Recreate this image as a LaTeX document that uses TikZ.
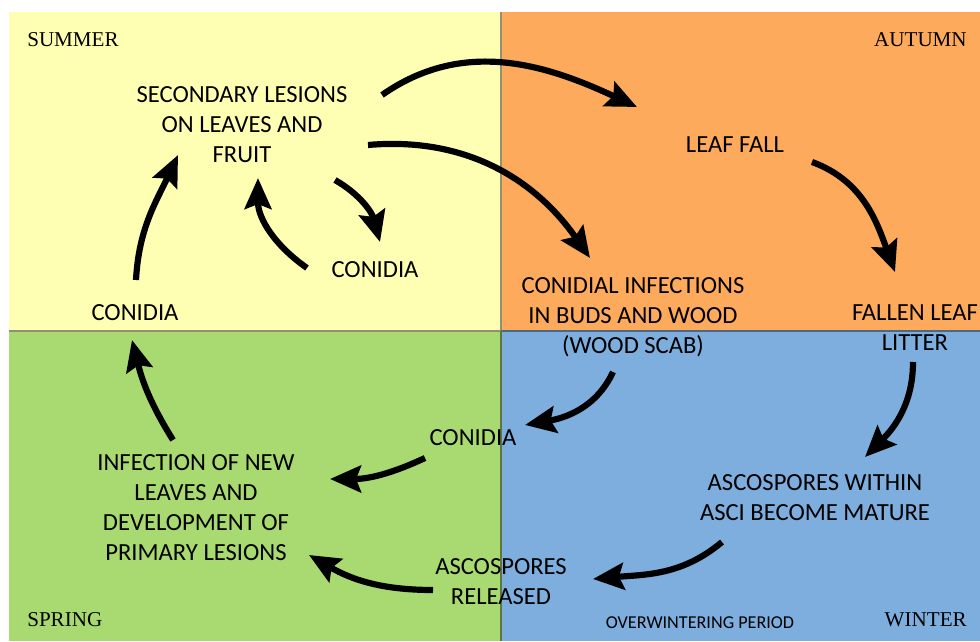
\documentclass[tikz,border=0pt]{standalone}
\usepackage{fontspec}
\setmainfont{Carlito}
\newfontfamily\seasonfont{Liberation Serif}
\usetikzlibrary{arrows.meta, calc, positioning}

\definecolor{summer}{RGB}{255,255,179}
\definecolor{autumn}{RGB}{253,170,92}
\definecolor{spring}{RGB}{169,217,113}
\definecolor{winter}{RGB}{125,174,222}

\begin{document}
\begin{tikzpicture}[x=0.025cm, y=0.025cm, >={Stealth[length=22pt, width=19pt, inset=3.5pt]}]
	\tikzstyle{stage} = [align=center, inner sep=0pt, font=\fontsize{17.5}{21.3}\selectfont]
	\tikzstyle{season} = [inner sep=0pt, font=\seasonfont\fontsize{15}{18}\selectfont]
	\tikzstyle{flow} = [->, line width=4.4pt, black]

	\useasboundingbox (0,0) rectangle (980,641);

	% the four seasons
	\fill[summer] (9,310) rectangle (501,629);
	\fill[autumn] (501,310) rectangle (980,629);
	\fill[spring] (9,0) rectangle (501,310);
	\fill[winter] (501,0) rectangle (980,310);
	\draw[line width=0.8pt, black!40!summer!70!gray] (9,310) -- (501,310) (501,310) -- (501,629);
	\draw[line width=0.8pt, winter!60!black] (501,310) -- (980,310);
	\draw[line width=0.8pt, spring!55!black] (501,310) -- (501,0);

	\node[season, anchor=west] (summerlbl) at (27,601) {SUMMER};
	\node[season, anchor=east] (autumnlbl) at (967,601) {AUTUMN};
	\node[season, anchor=west] (springlbl) at (27,21) {SPRING};
	\node[season, anchor=east] (winterlbl) at (967,21) {WINTER};
	\node[inner sep=0pt, font=\fontsize{12.9}{15}\selectfont] (overwinter) at (700,18) {OVERWINTERING PERIOD};

	\path[flow]
		node[stage] (sec) at (242,516) {SECONDARY LESIONS\\ON LEAVES AND\\FRUIT}
		node[stage] (leaf) at (735,496) {LEAF FALL}
		node[stage] (conA) at (375,371) {CONIDIA}
		node[stage] (cinf) at (633,324) {CONIDIAL INFECTIONS\\IN BUDS AND WOOD\\(WOOD SCAB)}
		node[stage] (conB) at (135,328) {CONIDIA}
		node[stage] (litter) at (915,313) {FALLEN LEAF\\LITTER}
		node[stage] (conC) at (473,203) {CONIDIA}
		node[stage] (infect) at (196,133) {INFECTION OF NEW\\LEAVES AND\\DEVELOPMENT OF\\PRIMARY LESIONS}
		node[stage] (asco) at (815,143) {ASCOSPORES WITHIN\\ASCI BECOME MATURE}
		node[stage] (rel) at (501,59) {ASCOSPORES\\RELEASED}

		([shift={(140,30)}]sec.center) edge[out=35, in=155] ([shift={(-98,38)}]leaf.center)
		([shift={(126,-20)}]sec.center) edge[out=5, in=125] ([shift={(-43,59)}]cinf.center)
		([shift={(93,-55)}]sec.center) edge[out=-30, in=105] ([shift={(5,28)}]conA.center)
		([shift={(-68,2)}]conA.center) edge[out=145, in=-90] ([shift={(16,-53)}]sec.center)
		([shift={(1,33)}]conB.center) edge[out=87, in=-115] ([shift={(-64,-30)}]sec.center)
		([shift={(77,-17)}]leaf.center) edge[out=-20, in=110] ([shift={(-20,56)}]litter.center)
		([shift={(-2,-34)}]litter.center) edge[out=-90, in=45] ([shift={(50,41)}]asco.center)
		([shift={(-20,-55)}]cinf.center) edge[out=-115, in=10] ([shift={(52,13)}]conC.center)
		([shift={(-48,-20)}]conC.center) edge[out=205, in=0] ([shift={(134,29)}]infect.center)
		([shift={(-93,-44)}]asco.center) edge[out=-140, in=5] ([shift={(92,3)}]rel.center)
		([shift={(-68,-8)}]rel.center) edge[out=180, in=-30] ([shift={(113,-47)}]infect.center)
		([shift={(-23,68)}]infect.center) edge[out=122, in=-76] ([shift={(-3,-27)}]conB.center)
	;
\end{tikzpicture}
\end{document}
